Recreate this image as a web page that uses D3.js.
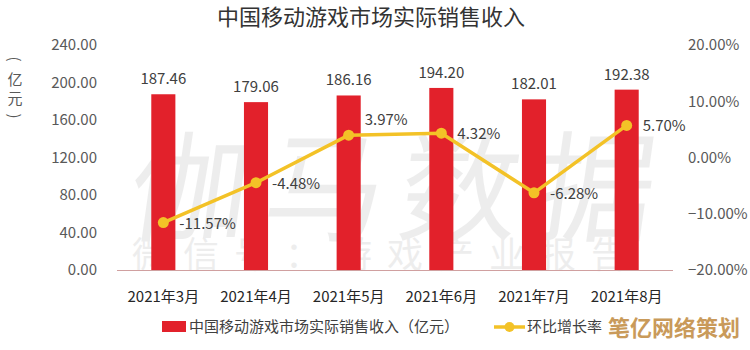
<!DOCTYPE html>
<html>
<head>
<meta charset="utf-8">
<script src="https://cdn.jsdelivr.net/npm/d3@7"></script>
<style>
  html, body { margin: 0; padding: 0; background: #fff; }
  svg text { font-family: "Noto Sans CJK SC", "Noto Sans", sans-serif; }
</style>
</head>
<body>
<svg id="chart" width="750" height="350"></svg>
<script>
// Monthly actual sales revenue of China's mobile game market (100M yuan) and month-on-month growth (%)
const months = ["2021年3月", "2021年4月", "2021年5月", "2021年6月", "2021年7月", "2021年8月"];
const revenue = [187.46, 179.06, 186.16, 194.20, 182.01, 192.38];
const growth = [-11.57, -4.48, 3.97, 4.32, -6.28, 5.70];
const leftTicks = [0, 40, 80, 120, 160, 200, 240];
const rightTicks = [-20, -10, 0, 10, 20];

const titleText = "中国移动游戏市场实际销售收入";
const barLegend = "中国移动游戏市场实际销售收入（亿元）";
const lineLegend = "环比增长率";
const unitChars = ["(", "亿", "元", ")"];

const svg = d3.select("#chart");
const margin = { left: 117, right: 77, top: 45, bottom: 80 };
const W = 750, H = 350;
const x0 = margin.left, x1 = W - margin.right;
const y0 = H - margin.bottom, y1 = margin.top;

const x = d3.scaleBand().domain(months).range([x0, x1]).paddingInner(0.74).paddingOuter(0.37);
const yL = d3.scaleLinear().domain([0, 240]).range([y0, y1]);
const yR = d3.scaleLinear().domain([-20, 20]).range([y0, y1]);

const textColor = "#404040";
const barColor = "#e2212b";
const lineColor = "#f3c227";

// Background lettering
const wm = svg.append("g").attr("fill", "#000").attr("opacity", 0.065);
["伽", "马", "数", "据"].forEach((c, i) => {
  wm.append("text").attr("x", 185 + i * 135).attr("y", 232)
    .attr("text-anchor", "middle").attr("font-size", 120)
    .attr("transform", "skewX(-8) translate(32, 0)")
    .text(c);
});
"微信号：游戏产业报告".split("").forEach((c, i) => {
  wm.append("text").attr("x", 150 + i * 51).attr("y", 268)
    .attr("text-anchor", "middle").attr("font-size", 36).text(c);
});

// Title
svg.append("text").attr("x", 371).attr("y", 25).attr("text-anchor", "middle")
  .attr("font-size", 22).attr("fill", "#333").text(titleText);

// Left axis
const axL = svg.append("g").attr("transform", `translate(${x0 - 8},0)`)
  .call(d3.axisLeft(yL).tickValues(leftTicks).tickFormat(d3.format(".2f")).tickSize(0).tickPadding(12));
axL.select(".domain").remove();
axL.selectAll("text").attr("font-size", 15).attr("fill", "#595959")
  .style("font-family", "'Noto Sans CJK SC', sans-serif");

// Right axis
const axR = svg.append("g").attr("transform", `translate(${x1},0)`)
  .call(d3.axisRight(yR).tickValues(rightTicks).tickFormat(d => d3.format(".2f")(d) + "%").tickSize(0).tickPadding(15));
axR.select(".domain").remove();
axR.selectAll("text").attr("font-size", 15).attr("fill", "#595959")
  .style("font-family", "'Noto Sans CJK SC', sans-serif");

// Unit label, set vertically; brackets turned a quarter to read top-down
unitChars.forEach((c, i) => {
  const cy = 59 + i * 19;
  const t = svg.append("text").attr("x", 15).attr("y", cy)
    .attr("text-anchor", "middle").attr("dominant-baseline", "central")
    .attr("font-size", 15).attr("fill", "#595959").text(c);
  if (i === 0 || i === unitChars.length - 1) t.attr("transform", `rotate(90, 15, ${cy})`);
});

// Bars
svg.append("g").selectAll("rect").data(revenue).join("rect")
  .attr("x", (d, i) => x(months[i]))
  .attr("y", d => yL(d))
  .attr("width", x.bandwidth())
  .attr("height", d => yL(0) - yL(d))
  .attr("fill", barColor);

// Baseline
svg.append("line").attr("x1", x0).attr("x2", x1).attr("y1", y0 + 0.5).attr("y2", y0 + 0.5)
  .attr("stroke", "#d0a0a0").attr("stroke-width", 1);

// Bar value labels
svg.append("g").selectAll("text").data(revenue).join("text")
  .attr("x", (d, i) => x(months[i]) + x.bandwidth() / 2)
  .attr("y", d => yL(d) - 10)
  .attr("text-anchor", "middle").attr("font-size", 15).attr("fill", textColor)
  .text(d => d.toFixed(2));

// X labels
svg.append("g").selectAll("text").data(months).join("text")
  .attr("x", d => x(d) + x.bandwidth() / 2)
  .attr("y", y0 + 32)
  .attr("text-anchor", "middle").attr("font-size", 15).attr("fill", "#262626")
  .text(d => d);

// Growth line
const cx = (d, i) => x(months[i]) + x.bandwidth() / 2;
const line = d3.line().x(cx).y(d => yR(d));
svg.append("path").datum(growth).attr("d", line)
  .attr("fill", "none").attr("stroke", lineColor).attr("stroke-width", 3.5).attr("stroke-linejoin", "round");
svg.append("g").selectAll("circle").data(growth).join("circle")
  .attr("cx", cx).attr("cy", d => yR(d)).attr("r", 5.5).attr("fill", lineColor);

// Growth labels: to the right of each point, lifted above where the next segment runs flat
svg.append("g").selectAll("text").data(growth).join("text")
  .attr("x", (d, i) => cx(d, i) + 16)
  .attr("y", (d, i) => {
    const flat = i < growth.length - 1 && Math.abs(yR(growth[i + 1]) - yR(d)) < 10;
    return yR(d) + (flat ? -10 : 6);
  })
  .attr("font-size", 15).attr("fill", textColor)
  .text(d => d.toFixed(2) + "%");

// Legend
const lg = svg.append("g");
lg.append("rect").attr("x", 162).attr("y", 321).attr("width", 24).attr("height", 11).attr("fill", barColor);
lg.append("text").attr("x", 189).attr("y", 332).attr("font-size", 15).attr("fill", "#404040").text(barLegend);
lg.append("line").attr("x1", 494).attr("x2", 525).attr("y1", 327).attr("y2", 327)
  .attr("stroke", lineColor).attr("stroke-width", 3.5);
lg.append("circle").attr("cx", 509.5).attr("cy", 327).attr("r", 5).attr("fill", lineColor);
lg.append("text").attr("x", 527).attr("y", 332).attr("font-size", 15).attr("fill", "#404040").text(lineLegend);

// Corner mark
svg.append("text").attr("x", 740).attr("y", 336).attr("text-anchor", "end")
  .attr("font-size", 22).attr("font-weight", "bold").attr("fill", "#c99a5a").text("笔亿网络策划");
</script>
</body>
</html>
